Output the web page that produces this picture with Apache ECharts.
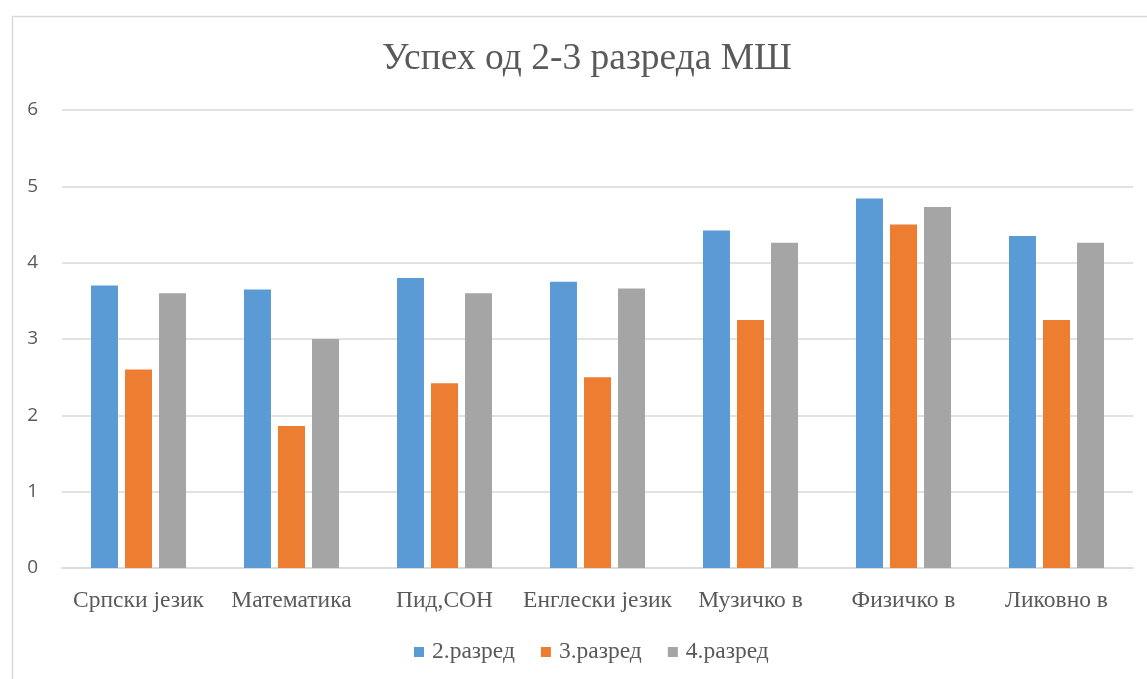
<!DOCTYPE html>
<html>
<head>
<meta charset="utf-8">
<script src="https://cdn.jsdelivr.net/npm/echarts@6/dist/echarts.min.js"></script>
<style>html,body{margin:0;padding:0;background:#fff}#c{width:1147px;height:679px}</style>
</head>
<body>
<div id="c"></div>
<script>
const titleText = 'Успех од 2-3 разреда МШ';
const categories = ['Српски језик', 'Математика', 'Пид,СОН', 'Енглески језик', 'Музичко в', 'Физичко в', 'Ликовно в'];
const seriesNames = ['2.разред', '3.разред', '4.разред'];
const grade2 = [3.70, 3.65, 3.80, 3.75, 4.42, 4.84, 4.35];
const grade3 = [2.60, 1.86, 2.42, 2.50, 3.25, 4.50, 3.25];
const grade4 = [3.60, 3.00, 3.60, 3.66, 4.26, 4.73, 4.26];
const colors = ['#5b9bd5', '#ed7d31', '#a5a5a5'];

const serif = '"Liberation Serif", "Times New Roman", serif';
const chart = echarts.init(document.getElementById('c'), null, {renderer: 'canvas'});
const values = [grade2, grade3, grade4];
chart.setOption({
  animation: false,
  color: colors,
  graphic: [{
    type: 'rect', left: 10, top: 14,
    shape: {width: 1160, height: 700},
    style: {fill: 'none', stroke: '#d9d9d9', lineWidth: 1.5},
    z: -1
  }],
  title: {
    text: titleText, left: 377, top: 35,
    textStyle: {fontFamily: serif, fontSize: 37.5, fontWeight: 'normal', color: '#595959'}
  },
  legend: {
    top: 635, left: 409,
    itemWidth: 10, itemHeight: 10, itemGap: 26,
    icon: 'rect',
    textStyle: {fontFamily: serif, fontSize: 23.5, color: '#595959', padding: [0, 0, 0, 3]},
    data: seriesNames
  },
  grid: {left: 62, right: 14, top: 110, bottom: 111, containLabel: false},
  xAxis: {
    type: 'category', data: categories,
    axisLine: {lineStyle: {color: '#d9d9d9', width: 1.5}},
    axisTick: {show: false},
    axisLabel: {fontFamily: serif, fontSize: 23.5, color: '#595959', margin: 21, interval: 0}
  },
  yAxis: {
    type: 'value', min: 0, max: 6, interval: 1,
    axisLine: {show: false}, axisTick: {show: false},
    splitLine: {lineStyle: {color: '#d9d9d9', width: 1.5}},
    axisLabel: {fontFamily: '"Open Sans", sans-serif', fontSize: 19, color: '#595959', margin: 24}
  },
  series: seriesNames.map((n, i) => ({
    name: n, type: 'bar', data: values[i],
    barWidth: 27, barGap: '26%'
  }))
});
</script>
</body>
</html>
